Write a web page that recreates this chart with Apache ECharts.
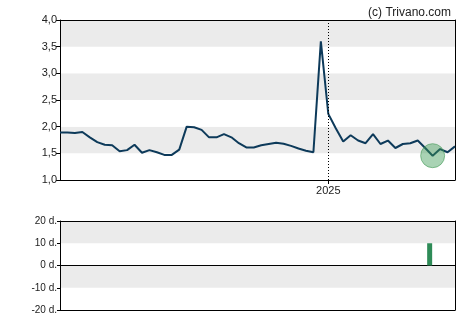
<!DOCTYPE html>
<html>
<head>
<meta charset="utf-8">
<script src="https://cdn.jsdelivr.net/npm/echarts@6/dist/echarts.min.js"></script>
<style>html,body{margin:0;padding:0;background:#fff}#c{width:470px;height:325px}</style>
</head>
<body>
<div id="c"></div>
<script>
// weekly prices (index 0..53)
const prices = [1.89,1.89,1.88,1.90,1.80,1.71,1.66,1.65,1.54,1.56,
  1.66,1.51,1.56,1.52,1.47,1.47,1.57,2.00,1.99,1.94,
  1.80,1.80,1.86,1.80,1.69,1.61,1.61,1.65,1.675,1.70,
  1.68,1.64,1.59,1.55,1.52,3.60,2.24,1.97,1.72,1.84,
  1.74,1.69,1.86,1.675,1.74,1.60,1.675,1.69,1.74,1.60,
  1.456,1.58,1.52,1.63];
const xTickIdx = [36];
const xTickLabels = ['2025'];
const highlightIdx = [50];
const barPos = [49.6];
const barVals = [10];

const lineData = prices.map((v, i) => [i, v]);
const hiData = highlightIdx.map(i => [i, prices[i]]);
const barData = barPos.map((p, i) => [p, barVals[i]]);
const font = 'Liberation Sans, Arial, sans-serif';
const frameAxis = {axisLine: {show: true, onZero: false, lineStyle: {color: '#000', width: 1}},
  axisTick: {show: false}, axisLabel: {show: false}, splitLine: {show: false}};

const chart = echarts.init(document.getElementById('c'), null, {renderer: 'canvas'});
chart.setOption({
  animation: false,
  backgroundColor: '#fff',
  title: {
    text: '(c) Trivano.com', right: 14, top: 2,
    textStyle: {fontSize: 12, fontWeight: 'normal', color: '#222', fontFamily: font}
  },
  grid: [
    {left: 60, right: 15, top: 20, height: 160},
    {left: 60, right: 15, top: 221, height: 89}
  ],
  xAxis: [
    {type: 'value', gridIndex: 0, min: 0, max: 53,
     axisLine: {show: true, onZero: false, lineStyle: {color: '#000'}},
     axisTick: {show: true, customValues: xTickIdx, length: 4, lineStyle: {color: '#000'}},
     axisLabel: {show: true, customValues: xTickIdx, formatter: v => xTickLabels[xTickIdx.indexOf(Math.round(v))] || '',
       fontSize: 11, color: '#222', fontFamily: font, margin: 5},
     splitLine: {show: false}},
    {type: 'value', gridIndex: 1, min: 0, max: 53,
     axisLine: {show: true, onZero: true, lineStyle: {color: '#000'}},
     axisTick: {show: false}, axisLabel: {show: false}, splitLine: {show: false}},
    Object.assign({type: 'value', gridIndex: 0, min: 0, max: 53, position: 'top'}, frameAxis),
    Object.assign({type: 'value', gridIndex: 1, min: 0, max: 53, position: 'top'}, frameAxis),
    Object.assign({type: 'value', gridIndex: 1, min: 0, max: 53, position: 'bottom'}, frameAxis)
  ],
  yAxis: [
    {type: 'value', gridIndex: 0, min: 1, max: 4, interval: 0.5,
     axisLine: {show: true, onZero: false, lineStyle: {color: '#000'}},
     axisTick: {show: true, length: 4, lineStyle: {color: '#000'}},
     axisLabel: {fontSize: 11, color: '#222', fontFamily: font, margin: 3,
       formatter: v => v.toFixed(1).replace('.', ',')},
     splitLine: {show: false},
     splitArea: {show: true, areaStyle: {color: ['#ffffff', '#ebebeb']}}},
    {type: 'value', gridIndex: 1, min: -20, max: 20, interval: 10,
     axisLine: {show: true, onZero: false, lineStyle: {color: '#000'}},
     axisTick: {show: true, length: 3, lineStyle: {color: '#000'}},
     axisLabel: {fontSize: 10, color: '#222', fontFamily: font, margin: 3,
       formatter: v => v + ' d.'},
     splitLine: {show: false},
     splitArea: {show: true, areaStyle: {color: ['#ffffff', '#ebebeb']}}},
    Object.assign({type: 'value', gridIndex: 0, min: 1, max: 4, position: 'right'}, frameAxis),
    Object.assign({type: 'value', gridIndex: 1, min: -20, max: 20, position: 'right'}, frameAxis)
  ],
  series: [
    {type: 'line', xAxisIndex: 0, yAxisIndex: 0, data: lineData, symbol: 'none',
     lineStyle: {color: '#0d3a5a', width: 2}, z: 3,
     markLine: {silent: true, symbol: 'none', label: {show: false},
       lineStyle: {color: '#000', type: [1, 2], width: 1},
       data: xTickIdx.map(i => ({xAxis: i}))}},
    {type: 'scatter', xAxisIndex: 0, yAxisIndex: 0, data: hiData, symbolSize: 24,
     itemStyle: {color: 'rgba(60,155,85,0.55)', borderColor: 'rgba(60,150,80,0.7)', borderWidth: 1}, z: 4},
    {type: 'bar', xAxisIndex: 1, yAxisIndex: 1, data: barData, barWidth: 5,
     itemStyle: {color: '#2e8b57'}}
  ]
});
</script>
</body>
</html>
